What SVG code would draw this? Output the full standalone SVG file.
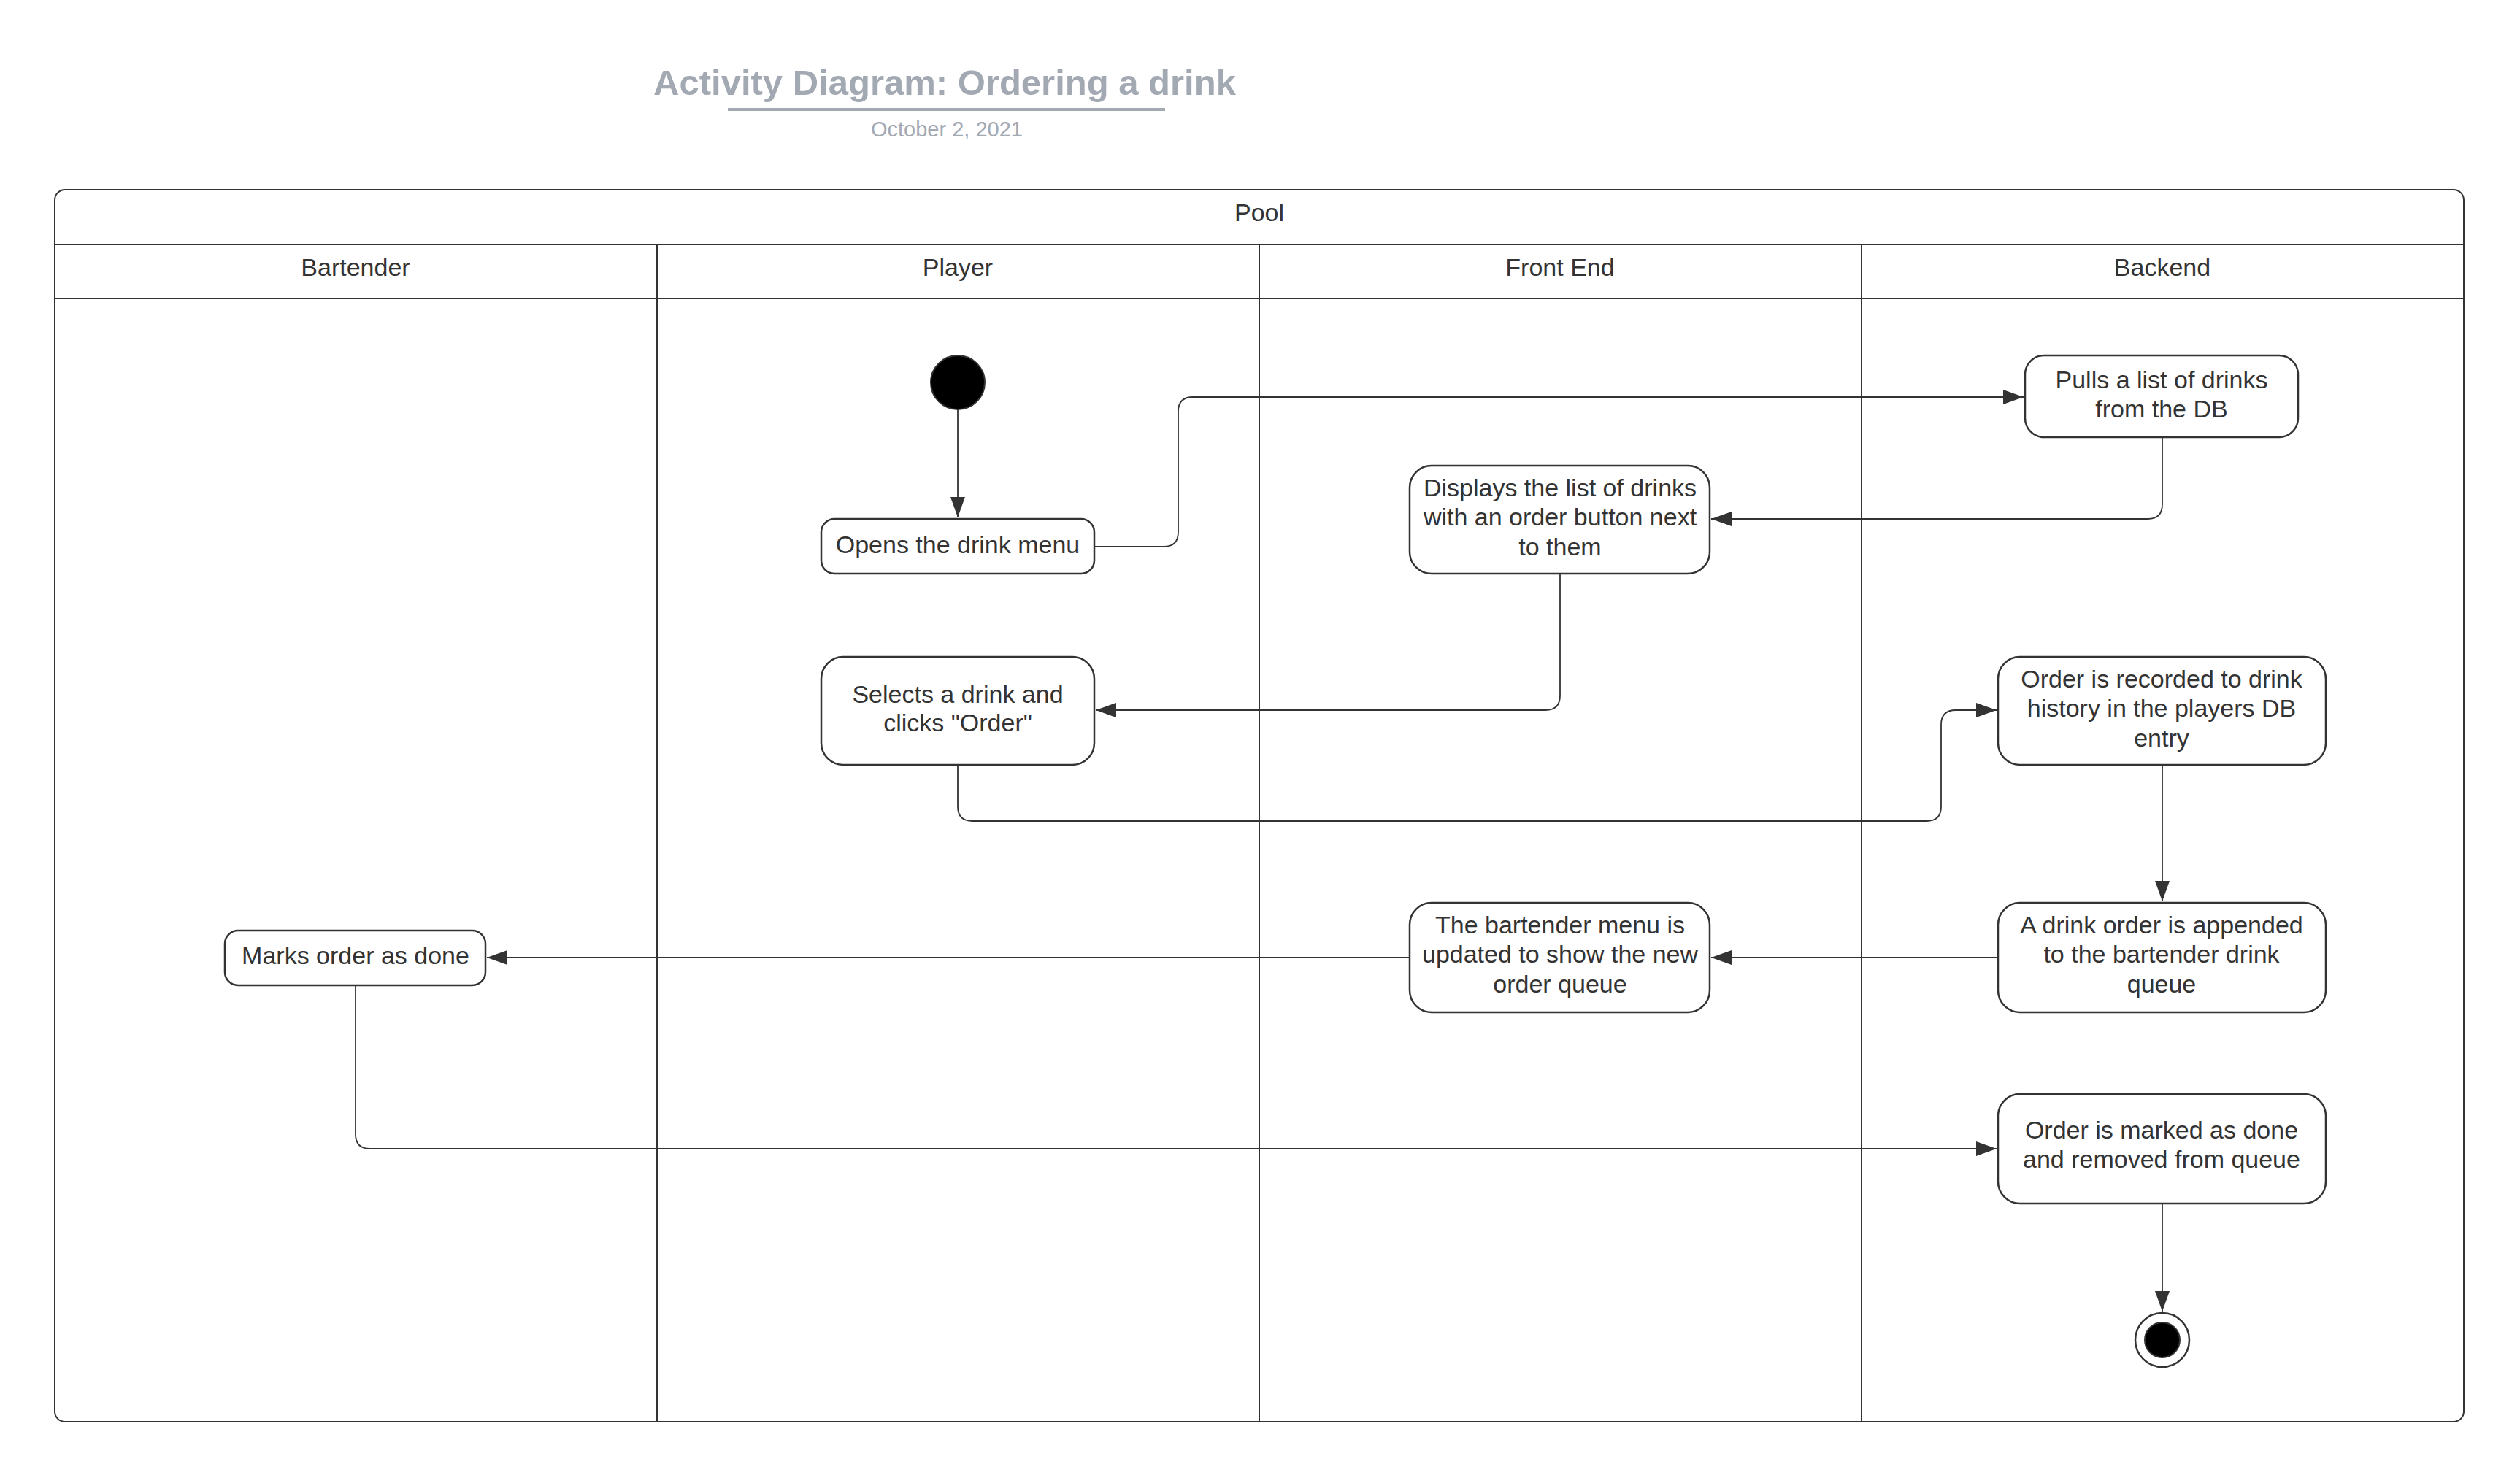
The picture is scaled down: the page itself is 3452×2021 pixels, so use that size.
<svg xmlns="http://www.w3.org/2000/svg" width="3452" height="2021" viewBox="0 0 3452 2021">
<style>
text{font-family:"Liberation Sans",Arial,sans-serif;fill:#333;text-anchor:middle;dominant-baseline:central}
.lbl{font-size:34px}
.node{fill:#fff;stroke:#333;stroke-width:2.5}
.lane{fill:none;stroke:#333;stroke-width:2}
.conn{fill:none;stroke:#333;stroke-width:1.8}
.title{font-size:49px;font-weight:bold;fill:#a3a9b3}
.date{font-size:29px;fill:#a3a9b3}
</style>
<defs>
<marker id="arr" markerUnits="userSpaceOnUse" markerWidth="30" markerHeight="22" refX="28" refY="10" orient="auto">
<path d="M0,0 L28,10 L0,20 z" fill="#333"/>
</marker>
</defs>
<rect width="3452" height="2021" fill="#fff"/>
<g id="title">
<text class="title" x="1294" y="113">Activity Diagram: Ordering a drink</text>
<line x1="997" y1="150" x2="1596" y2="150" stroke="#a3a9b3" stroke-width="4"/>
<text class="date" x="1297" y="177">October 2, 2021</text>
</g>
<g id="pool">
<rect class="lane" x="75" y="260" width="3300" height="1688" rx="14"/>
<line class="lane" x1="75" y1="335" x2="3375" y2="335"/>
<line class="lane" x1="75" y1="409" x2="3375" y2="409"/>
<line class="lane" x1="900" y1="335" x2="900" y2="1948"/>
<line class="lane" x1="1725" y1="335" x2="1725" y2="1948"/>
<line class="lane" x1="2550" y1="335" x2="2550" y2="1948"/>
<text class="lbl" x="1725" y="291">Pool</text>
<text class="lbl" x="487" y="366">Bartender</text>
<text class="lbl" x="1312" y="366">Player</text>
<text class="lbl" x="2137" y="366">Front End</text>
<text class="lbl" x="2962" y="366">Backend</text>
</g>
<g id="connectors">
<path class="conn" d="M1312,561 V709" marker-end="url(#arr)"/>
<path class="conn" d="M1499,749 H1594 Q1614,749 1614,729 V564 Q1614,544 1634,544 H2772" marker-end="url(#arr)"/>
<path class="conn" d="M2962,599 V691 Q2962,711 2942,711 H2344" marker-end="url(#arr)"/>
<path class="conn" d="M2137,786 V953 Q2137,973 2117,973 H1501" marker-end="url(#arr)"/>
<path class="conn" d="M1312,1048 V1105 Q1312,1125 1332,1125 H2639 Q2659,1125 2659,1105 V993 Q2659,973 2679,973 H2735" marker-end="url(#arr)"/>
<path class="conn" d="M2962,1048 V1235" marker-end="url(#arr)"/>
<path class="conn" d="M2737,1312 H2344" marker-end="url(#arr)"/>
<path class="conn" d="M1931,1312 H667" marker-end="url(#arr)"/>
<path class="conn" d="M487,1350 V1554 Q487,1574 507,1574 H2735" marker-end="url(#arr)"/>
<path class="conn" d="M2962,1649 V1797" marker-end="url(#arr)"/>
</g>
<g id="start">
<circle cx="1312" cy="524" r="37" fill="#000" stroke="#333" stroke-width="2"/>
</g>
<g id="opens-menu">
<rect class="node" x="1125" y="711" width="374" height="75" rx="18"/>
<text class="lbl" x="1312" y="746">Opens the drink menu</text>
</g>
<g id="pulls-list">
<rect class="node" x="2774" y="487" width="374" height="112" rx="26"/>
<text class="lbl" x="2961" y="520">Pulls a list of drinks</text>
<text class="lbl" x="2961" y="560">from the DB</text>
</g>
<g id="displays-list">
<rect class="node" x="1931" y="638" width="411" height="148" rx="30"/>
<text class="lbl" x="2137" y="668">Displays the list of drinks</text>
<text class="lbl" x="2137" y="708">with an order button next</text>
<text class="lbl" x="2137" y="749">to them</text>
</g>
<g id="selects-drink">
<rect class="node" x="1125" y="900" width="374" height="148" rx="30"/>
<text class="lbl" x="1312" y="951">Selects a drink and</text>
<text class="lbl" x="1312" y="990">clicks "Order"</text>
</g>
<g id="order-recorded">
<rect class="node" x="2737" y="900" width="449" height="148" rx="30"/>
<text class="lbl" x="2961" y="930">Order is recorded to drink</text>
<text class="lbl" x="2961" y="970">history in the players DB</text>
<text class="lbl" x="2961" y="1011">entry</text>
</g>
<g id="order-appended">
<rect class="node" x="2737" y="1237" width="449" height="150" rx="30"/>
<text class="lbl" x="2961" y="1267">A drink order is appended</text>
<text class="lbl" x="2961" y="1307">to the bartender drink</text>
<text class="lbl" x="2961" y="1348">queue</text>
</g>
<g id="menu-updated">
<rect class="node" x="1931" y="1237" width="411" height="150" rx="30"/>
<text class="lbl" x="2137" y="1267">The bartender menu is</text>
<text class="lbl" x="2137" y="1307">updated to show the new</text>
<text class="lbl" x="2137" y="1348">order queue</text>
</g>
<g id="marks-done">
<rect class="node" x="308" y="1275" width="357" height="75" rx="18"/>
<text class="lbl" x="487" y="1309">Marks order as done</text>
</g>
<g id="order-removed">
<rect class="node" x="2737" y="1499" width="449" height="150" rx="30"/>
<text class="lbl" x="2961" y="1548">Order is marked as done</text>
<text class="lbl" x="2961" y="1588">and removed from queue</text>
</g>
<g id="end">
<circle cx="2962" cy="1836" r="37" fill="#fff" stroke="#333" stroke-width="2.5"/>
<circle cx="2962" cy="1836" r="24" fill="#000" stroke="#333" stroke-width="2"/>
</g>
</svg>
